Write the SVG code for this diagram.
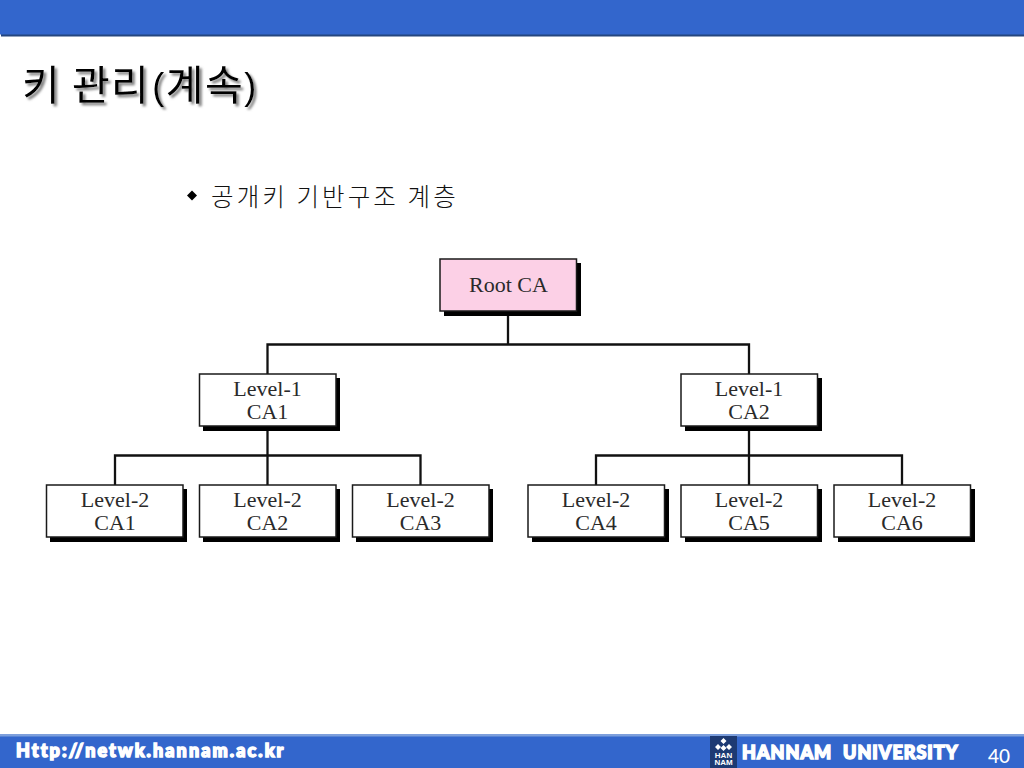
<svg xmlns="http://www.w3.org/2000/svg" width="1024" height="768" viewBox="0 0 1024 768">
<defs>
<filter id="ds" x="-5%" y="-20%" width="110%" height="140%"><feDropShadow dx="2.500" dy="2.500" stdDeviation="0.800" flood-color="#808080"/></filter>
</defs>
<style>
.box{stroke:#1a1a1a;stroke-width:1.5}
.sh{fill:#000}
.lbl{font-family:"Liberation Serif","Times New Roman",serif;font-size:22px;fill:#2a2a2a;text-anchor:middle}
.con{fill:none;stroke:#111;stroke-width:2.300}
.ko{font-family:"Noto Sans CJK KR","Liberation Sans",sans-serif}
.foot{font-family:"Lato","Liberation Sans",sans-serif;font-weight:900;fill:#fff;stroke:#fff;stroke-width:1.500}
</style>
<rect width="1024" height="768" fill="#fff"/>
<g id="header">
<rect x="1" y="0" width="1023" height="36.500" fill="#25467f"/>
<rect x="0" y="0" width="1024" height="34.500" fill="#3366cc"/>
</g>
<g id="title">
<text class="ko" x="22" y="100" font-size="41" font-weight="400" letter-spacing="1.500" fill="#000" filter="url(#ds)">키 관리<tspan font-family="Liberation Sans,sans-serif" font-size="36" dx="2" dy="-1">(</tspan><tspan dy="1">계속</tspan><tspan font-family="Liberation Sans,sans-serif" font-size="36" dy="-1">)</tspan></text>
</g>
<g id="subtitle">
<path d="M192 190.500l5 5-5 5-5-5z" fill="#000"/>
<text class="ko" x="211" y="206" font-size="24.500" font-weight="300" letter-spacing="3.100" fill="#111">공개키 기반구조 계층</text>
</g>
<g id="connectors">
<path class="con" d="M508 311V344.500M267.500 374V344.500H749V374"/>
<path class="con" d="M267.500 426V485M115 485V455.500H420.500V485"/>
<path class="con" d="M749 426V485M596 485V455.500H902V485"/>
</g>
<g id="root">
<rect class="sh" x="444" y="263" width="137" height="53"/>
<rect class="box" x="440" y="259" width="136.500" height="52" fill="#fcd0e6"/>
<text class="lbl" x="508.500" y="292">Root CA</text>
</g>
<g id="l1-ca1">
<rect class="sh" x="203" y="378" width="137" height="53"/>
<rect class="box" x="199.500" y="374" width="136.500" height="52" fill="#fff"/>
<text class="lbl" x="267.500" y="396">Level-1</text><text class="lbl" x="267.500" y="419">CA1</text>
</g>
<g id="l1-ca2">
<rect class="sh" x="685" y="378" width="137" height="53"/>
<rect class="box" x="681" y="374" width="136.500" height="52" fill="#fff"/>
<text class="lbl" x="749" y="396">Level-1</text><text class="lbl" x="749" y="419">CA2</text>
</g>
<g id="l2-ca1">
<rect class="sh" x="50" y="489" width="137" height="53"/>
<rect class="box" x="46.500" y="485" width="136.500" height="52" fill="#fff"/>
<text class="lbl" x="115" y="507">Level-2</text><text class="lbl" x="115" y="530">CA1</text>
</g>
<g id="l2-ca2">
<rect class="sh" x="203" y="489" width="137" height="53"/>
<rect class="box" x="199.500" y="485" width="136.500" height="52" fill="#fff"/>
<text class="lbl" x="267.500" y="507">Level-2</text><text class="lbl" x="267.500" y="530">CA2</text>
</g>
<g id="l2-ca3">
<rect class="sh" x="356" y="489" width="137" height="53"/>
<rect class="box" x="352.500" y="485" width="136.500" height="52" fill="#fff"/>
<text class="lbl" x="420.500" y="507">Level-2</text><text class="lbl" x="420.500" y="530">CA3</text>
</g>
<g id="l2-ca4">
<rect class="sh" x="532" y="489" width="137" height="53"/>
<rect class="box" x="528" y="485" width="136.500" height="52" fill="#fff"/>
<text class="lbl" x="596" y="507">Level-2</text><text class="lbl" x="596" y="530">CA4</text>
</g>
<g id="l2-ca5">
<rect class="sh" x="685" y="489" width="137" height="53"/>
<rect class="box" x="681" y="485" width="136.500" height="52" fill="#fff"/>
<text class="lbl" x="749" y="507">Level-2</text><text class="lbl" x="749" y="530">CA5</text>
</g>
<g id="l2-ca6">
<rect class="sh" x="838" y="489" width="137" height="53"/>
<rect class="box" x="834" y="485" width="136.500" height="52" fill="#fff"/>
<text class="lbl" x="902" y="507">Level-2</text><text class="lbl" x="902" y="530">CA6</text>
</g>
<g id="footer">
<rect x="0" y="734" width="1024" height="34" fill="#3366cc"/>
<rect x="0" y="734" width="1024" height="2.500" fill="#7d9fdc"/>
<text class="foot" x="16" y="757" font-size="18" letter-spacing="2.100">Http://netwk.hannam.ac.kr</text>
</g>
<g id="logo">
<rect x="710" y="736" width="27" height="32" fill="#1d3a73"/>
<path d="M723.500 738l3 3-3 3-3-3zM718 744l3 3-3 3-3-3zM729 744l3 3-3 3-3-3zM723.500 745l3 3-3 3-3-3z" fill="#fff"/>
<text x="723.500" y="757.500" font-family="Liberation Sans,sans-serif" font-size="8" font-weight="700" fill="#fff" text-anchor="middle">HAN</text>
<text x="723.500" y="765" font-family="Liberation Sans,sans-serif" font-size="8" font-weight="700" fill="#fff" text-anchor="middle">NAM</text>
</g>
<g id="brand">
<text class="foot" x="742" y="759" font-size="18" letter-spacing="1">HANNAM</text>
<text class="foot" x="843" y="759" font-size="18" letter-spacing="1">UNIVERSITY</text>
<text x="988" y="763" font-family="Lato,Liberation Sans,sans-serif" font-size="19" font-weight="500" fill="#fff">40</text>
</g>
</svg>
